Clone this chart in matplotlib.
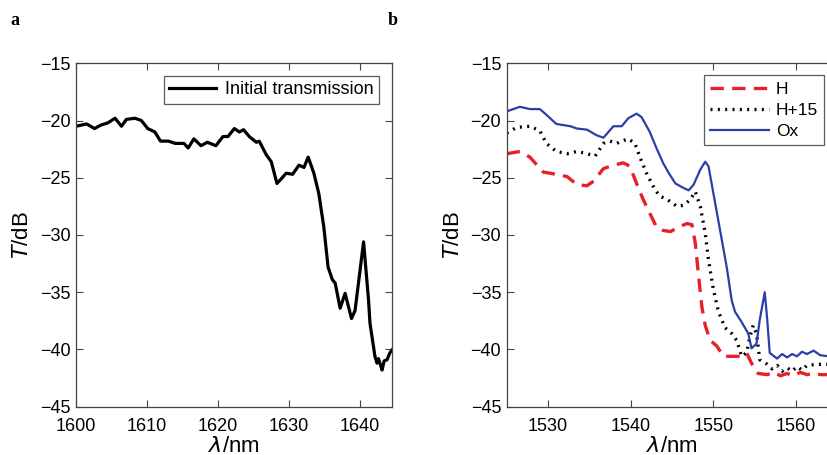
import matplotlib
matplotlib.use("Agg")
import matplotlib.pyplot as plt

# panel a: initial transmission
wl_a = [1600, 1601.5, 1602.6, 1603.5, 1604.5, 1605.5, 1606.4, 1607.1, 1608.3, 1609.2,
        1610.1, 1611.1, 1611.9, 1613, 1614, 1615.2, 1615.8, 1616.6, 1617.6, 1618.5,
        1619.7, 1620.7, 1621.4, 1622.3, 1623, 1623.6, 1624.4, 1625.4, 1625.8, 1626.8,
        1627.5, 1628.3, 1628.9, 1629.6, 1630.5, 1631.4, 1632.1, 1632.7, 1633.5, 1634.2,
        1634.9, 1635.5, 1636.1, 1636.5, 1637.2, 1637.9, 1638.8, 1639.3, 1640.5, 1641.2,
        1641.4, 1642.1, 1642.4, 1642.6, 1642.9, 1643.1, 1643.4, 1643.8, 1644.2, 1644.7]
t_init = [-20.5, -20.3, -20.7, -20.4, -20.2, -19.8, -20.5, -19.9, -19.8, -20.0,
          -20.7, -21.0, -21.8, -21.8, -22.0, -22.0, -22.4, -21.6, -22.2, -21.9,
          -22.2, -21.4, -21.4, -20.7, -21.0, -20.8, -21.4, -21.9, -21.8, -23.0,
          -23.6, -25.5, -25.1, -24.6, -24.7, -23.9, -24.1, -23.2, -24.6, -26.4,
          -29.3, -32.8, -33.9, -34.2, -36.4, -35.1, -37.3, -36.6, -30.6, -35.7,
          -37.7, -40.6, -41.2, -40.8, -41.4, -41.8, -41.0, -40.9, -40.3, -39.9]

# panel b: H, H+15, Ox
wl_h = [1525, 1526.6, 1527.8, 1529.4, 1531, 1532.3, 1533.5, 1534.7, 1535.5, 1536.7,
        1537.9, 1539.1, 1539.9, 1540.7, 1541.5, 1542.3, 1543.1, 1543.9, 1544.8, 1545.8,
        1546.8, 1547.4, 1547.8, 1548.2, 1548.6, 1549, 1549.6, 1550.4, 1551.2, 1552.2,
        1553.2, 1554, 1554.6, 1555.4, 1556.5, 1557.3, 1558.1, 1558.9, 1559.7, 1560.5,
        1561.3, 1562.1, 1563, 1565]
t_h = [-22.9, -22.7, -23.2, -24.5, -24.7, -24.9, -25.6, -25.7, -25.3, -24.2,
       -23.9, -23.7, -24.0, -25.5, -26.9, -28.1, -29.3, -29.6, -29.7, -29.3,
       -29.0, -29.1, -30.7, -33.6, -36.3, -37.9, -39.2, -39.7, -40.6, -40.6,
       -40.6, -40.3, -41.2, -42.1, -42.2, -42.0, -42.3, -42.1, -42.3, -42.0,
       -42.2, -42.1, -42.2, -42.2]

wl_h15 = [1525, 1526.2, 1527.8, 1529, 1529.8, 1531, 1532.3, 1533.5, 1534.7, 1535.7,
          1536.7, 1537.5, 1538.3, 1538.9, 1539.7, 1540.5, 1541.1, 1541.9, 1542.9, 1543.5,
          1544.4, 1545.6, 1546.4, 1547.2, 1547.8, 1548.4, 1549, 1549.4, 1550, 1550.6,
          1551.4, 1552.2, 1552.8, 1553.4, 1554.0, 1554.4, 1554.8, 1555.2, 1555.6, 1556.5,
          1557.1, 1557.7, 1558.3, 1558.9, 1559.5, 1560.1, 1560.7, 1561.3, 1562.5, 1563.9, 1565]
t_h15 = [-21.1, -20.6, -20.5, -20.9, -22.0, -22.7, -22.9, -22.7, -22.9, -23.1,
         -22.0, -21.8, -22.0, -21.8, -21.6, -22.0, -23.2, -24.6, -26.0, -26.6,
         -26.9, -27.5, -27.4, -26.9, -26.2, -27.5, -29.8, -32.2, -34.8, -36.7,
         -38.1, -38.6, -39.2, -40.6, -40.3, -38.9, -37.9, -38.6, -40.9, -41.3,
         -41.7, -41.4, -41.9, -41.6, -41.9, -41.5, -41.8, -41.4, -41.3, -41.3, -41.3]

wl_ox = [1525, 1526.6, 1527.8, 1529, 1529.8, 1531, 1532.7, 1533.5, 1534.7, 1535.9,
         1536.7, 1537.3, 1537.9, 1538.9, 1539.7, 1540.7, 1541.3, 1542.3, 1543.1, 1543.9,
         1544.6, 1545.4, 1546.4, 1547.0, 1547.6, 1548.4, 1549, 1549.4, 1550, 1550.8,
         1551.6, 1552.2, 1552.6, 1553.4, 1554.2, 1554.6, 1555.2, 1555.6, 1556.2, 1556.5,
         1556.8, 1557.7, 1558.3, 1558.9, 1559.5, 1560.1, 1560.7, 1561.3, 1562.1, 1562.9,
         1563.9, 1565]
t_ox = [-19.2, -18.8, -19.0, -19.0, -19.5, -20.3, -20.5, -20.7, -20.8, -21.3,
        -21.5, -21.0, -20.5, -20.5, -19.8, -19.4, -19.7, -21.0, -22.4, -23.7,
        -24.6, -25.5, -25.9, -26.1, -25.6, -24.3, -23.6, -24.0, -26.4, -29.6,
        -32.8, -35.7, -36.7, -37.6, -38.6, -39.9, -39.5, -37.4, -35.0, -37.4,
        -40.3, -40.8, -40.4, -40.7, -40.4, -40.6, -40.2, -40.4, -40.1, -40.5,
        -40.6, -40.6]

y_ticks = [-45, -40, -35, -30, -25, -20, -15]

plt.rcParams['font.family'] = ['Liberation Sans', 'DejaVu Sans']
plt.rcParams['mathtext.fontset'] = 'dejavusans'

fig = plt.figure(figsize=(8.28, 4.55), dpi=100)
fig.patch.set_facecolor('white')

ax1 = fig.add_axes([0.0918, 0.1062, 0.3816, 0.7547])
ax2 = fig.add_axes([0.612, 0.1062, 0.3995, 0.7547])

ax1.plot(wl_a, t_init, color='black', lw=2.3, label='Initial transmission')
ax1.set_xlim(1600, 1644.5)
ax1.set_xticks([1600, 1610, 1620, 1630, 1640])

ax2.plot(wl_h, t_h, color='#e8202a', lw=2.4, ls=(0, (4, 2.5)), label='H')
ax2.plot(wl_h15, t_h15, color='black', lw=2.4, ls=(0, (0.6, 1.6)), label='H+15')
ax2.plot(wl_ox, t_ox, color='#2b3fa6', lw=1.6, label='Ox')
ax2.set_xlim(1525, 1565)
ax2.set_xticks([1530, 1540, 1550, 1560])

for ax in [ax1, ax2]:
    ax.set_ylim(-45, -15)
    ax.set_yticks(y_ticks)
    ax.tick_params(direction='in', top=True, right=True, length=5, width=0.8,
                   labelsize=13, color='#444444')
    ax.tick_params(axis='x', pad=8)
    ax.tick_params(axis='y', pad=4)
    for sp in ax.spines.values():
        sp.set_color('#444444')
        sp.set_linewidth(0.9)
    ax.set_ylabel('$T$/dB', fontsize=16, labelpad=5)
    ax.set_xlabel(r'$\lambda$/nm', fontsize=16, labelpad=1)

leg1 = ax1.legend(loc='upper right', fontsize=13, frameon=True, fancybox=False,
                  handlelength=2.6, handletextpad=0.5, borderaxespad=0.7, borderpad=0.3)
leg1.get_frame().set_edgecolor('#333333')
leg1.get_frame().set_linewidth(0.9)

leg2 = ax2.legend(loc='upper left', bbox_to_anchor=(0.57, 0.99), fontsize=12.5,
                  frameon=True, fancybox=False, handlelength=3.4, handletextpad=0.4,
                  labelspacing=0.35, borderpad=0.35)
leg2.get_frame().set_edgecolor('#333333')
leg2.get_frame().set_linewidth(0.9)

fig.text(0.012, 0.955, 'a', fontsize=13, fontweight='bold', family='Liberation Serif', va='center')
fig.text(0.468, 0.955, 'b', fontsize=13, fontweight='bold', family='Liberation Serif', va='center')

fig.savefig('out.png', dpi=100)
